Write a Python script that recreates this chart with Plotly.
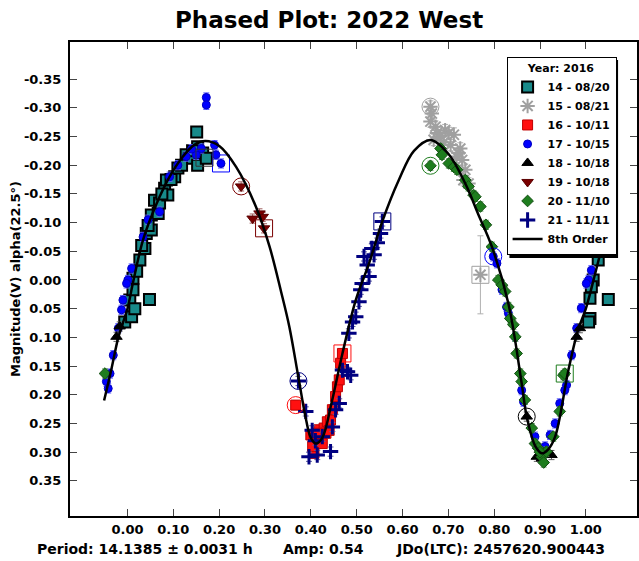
import plotly.graph_objects as go

# ---------------- data ----------------
ph14 = [-0.006, 0.005, 0.009, 0.012, 0.012, 0.016, 0.027, 0.038, 0.041, 0.052, 0.052, 0.059, 0.067, 0.070,
        0.081, 0.085, 0.088, 0.103, 0.110, 0.128, 0.135, 0.151, 0.153, 0.153, 0.164, 0.172, 0.048, 0.020,
        0.031, 0.045, 0.075, 0.095, 0.118, 0.142,
        1.052, 1.041, 1.034, 1.041, 1.027, 1.016, 1.012, 1.009, 1.009, 1.006, 1.049]
mag14 = [0.073, 0.035, 0.064, -0.003, 0.017, 0.050, -0.035, -0.055, -0.081, -0.113, -0.087, -0.139, -0.116, -0.134,
         -0.160, -0.174, -0.148, -0.180, -0.195, -0.218, -0.212, -0.258, -0.232, -0.200, -0.221, -0.212, 0.034, -0.015,
         -0.060, -0.095, -0.150, -0.175, -0.200, -0.225,
         -0.093, -0.084, -0.067, -0.052, -0.035, 0.000, 0.012, 0.032, 0.067, 0.073, 0.034]

ph15 = [0.661, 0.664, 0.661, 0.672, 0.675, 0.693, 0.701, 0.712, 0.726, 0.722, 0.730, 0.737, 0.733, 0.744,
        0.683, 0.668, 0.770, 0.690, 0.705, 0.718]
mag15 = [-0.302, -0.290, -0.276, -0.267, -0.256, -0.261, -0.256, -0.253, -0.229, -0.221, -0.209, -0.192, -0.174, -0.168,
         -0.250, -0.244, -0.009, -0.240, -0.235, -0.215]
err15 = [0.010, 0.010, 0.010, 0.010, 0.010, 0.010, 0.010, 0.012, 0.010, 0.010, 0.010, 0.010, 0.010, 0.010,
         0.010, 0.010, 0.068, 0.010, 0.010, 0.010]

ph16 = [0.367, 0.400, 0.407, 0.411, 0.418, 0.422, 0.429, 0.433, 0.436, 0.443, 0.447, 0.454, 0.458, 0.462,
        0.465, 0.469, 0.407, 0.414, 0.404, 0.425, 0.440]
mag16 = [0.218, 0.270, 0.276, 0.285, 0.261, 0.276, 0.258, 0.267, 0.247, 0.244, 0.226, 0.203, 0.186, 0.174,
         0.145, 0.128, 0.302, 0.267, 0.290, 0.285, 0.262]

ph17 = [0.172, 0.172, 0.190, 0.193, 0.204, 0.150, 0.161, 0.128, 0.092, 0.045, 0.034, 0.009, 0.001, -0.002,
        -0.013, -0.020, 0.070, -0.010, -0.031, -0.038, -0.046, -0.042, 0.110, 0.140,
        1.041, 1.034, 1.012, 1.006, 1.001, 0.990, 0.980, 0.969, 0.958, 0.954, 0.943,
        0.798, 0.806, 0.817, 0.827, 0.831, 0.846, 0.860, 0.864, 0.889, 0.922, 0.933, 0.911]
mag17 = [-0.318, -0.305, -0.235, -0.218, -0.203, -0.218, -0.229, -0.215, -0.180, -0.105, -0.075, -0.020, 0.000, 0.006,
         0.052, 0.084, -0.119, 0.035, 0.131, 0.163, 0.177, 0.189, -0.200, -0.228,
         -0.102, -0.073, -0.017, 0.000, 0.006, 0.049, 0.084, 0.131, 0.183, 0.192, 0.215,
         -0.041, -0.029, 0.017, 0.047, 0.058, 0.099, 0.192, 0.212, 0.273, 0.270, 0.250, 0.290]

ph18 = [0.871, 0.893, 0.904, 0.925, 0.980, 0.987, -0.024, -0.017]
mag18 = [0.238, 0.308, 0.311, 0.305, 0.099, 0.084, 0.099, 0.081]

ph19 = [0.248, 0.273, 0.288, 0.295, 0.298]
mag19 = [-0.163, -0.107, -0.116, -0.110, -0.090]

ph20 = [0.661, 0.683, 0.686, 0.701, 0.712, 0.719, 0.737, 0.744, 0.755, 0.759, 0.770, 0.782, 0.795, 0.809,
        0.817, 0.824, 0.831, 0.835, 0.842, 0.846, 0.849, 0.857, 0.860, 0.867, 0.882, 0.889, 0.896, 0.904,
        0.914, 0.929, 0.943, 0.951, 0.954, -0.049, 0.908, 0.900]
mag20 = [-0.199, -0.229, -0.218, -0.203, -0.197, -0.192, -0.174, -0.163, -0.148, -0.145, -0.128, -0.096, -0.058, 0.000,
         0.009, 0.020, 0.047, 0.067, 0.078, 0.099, 0.128, 0.163, 0.177, 0.209, 0.258, 0.285, 0.293, 0.308,
         0.299, 0.273, 0.229, 0.166, 0.163, 0.163, 0.318, 0.300]

ph21 = [0.373, 0.389, 0.396, 0.414, 0.443, 0.425, 0.447, 0.454, 0.462, 0.469, 0.480, 0.487, 0.483, 0.491,
        0.498, 0.505, 0.509, 0.512, 0.527, 0.523, 0.516, 0.538, 0.552, 0.556, 0.533, 0.545, 0.403, 0.410]
mag21 = [0.176, 0.229, 0.308, 0.305, 0.299, 0.273, 0.256, 0.226, 0.215, 0.157, 0.160, 0.166, 0.093, 0.073,
         0.064, 0.038, 0.017, 0.006, -0.006, -0.026, -0.041, -0.044, -0.081, -0.102, -0.055, -0.065, 0.262, 0.280]

# 8th order fit curve
fit_ph = [-0.051, -0.035, -0.020, -0.010, 0.000, 0.012, 0.034, 0.063, 0.092, 0.121, 0.145, 0.170, 0.201,
          0.237, 0.280, 0.310, 0.335, 0.353, 0.373, 0.390, 0.400, 0.411, 0.425, 0.445, 0.469, 0.498, 0.527,
          0.556, 0.592, 0.625, 0.661, 0.700, 0.737, 0.765, 0.795, 0.831, 0.860, 0.871, 0.890, 0.904, 0.918,
          0.933, 0.962, 0.983, 1.000, 1.020, 1.050]
fit_mag = [0.210, 0.155, 0.100, 0.075, 0.050, 0.005, -0.070, -0.132, -0.180, -0.215, -0.235, -0.242, -0.233,
           -0.197, -0.128, -0.058, 0.020, 0.081, 0.170, 0.245, 0.275, 0.285, 0.275, 0.215, 0.128, 0.035, -0.029,
           -0.102, -0.174, -0.225, -0.244, -0.220, -0.168, -0.115, -0.058, 0.041, 0.180, 0.238, 0.290, 0.302, 0.295,
           0.273, 0.157, 0.087, 0.050, -0.010, -0.105]

# first-observation markers (rings)
ring_c_ph = [0.248, 0.373, 0.367, 0.798, 0.661, 0.661, 0.871]
ring_c_mag = [-0.163, 0.176, 0.218, -0.041, -0.199, -0.302, 0.238]
ring_s_ph = [0.298, 0.556, 0.469, 0.204, 0.954, 0.770, 0.168]
ring_s_mag = [-0.090, -0.102, 0.128, -0.203, 0.163, -0.009, -0.213]

x_ticks = [0.0, 0.1, 0.2, 0.3, 0.4, 0.5, 0.6, 0.7, 0.8, 0.9, 1.0]
x_labels = ["0.00", "0.10", "0.20", "0.30", "0.40", "0.50", "0.60", "0.70", "0.80", "0.90", "1.00"]
y_ticks = [-0.35, -0.30, -0.25, -0.20, -0.15, -0.10, -0.05, 0.0, 0.05, 0.10, 0.15, 0.20, 0.25, 0.30, 0.35]
y_labels = ["-0.35", "-0.30", "-0.25", "-0.20", "-0.15", "-0.10", "-0.05", "0.00", "0.05", "0.10",
            "0.15", "0.20", "0.25", "0.30", "0.35"]

series_names = ["14 - 08/20", "15 - 08/21", "16 - 10/11", "17 - 10/15",
                "18 - 10/18", "19 - 10/18", "20 - 11/10", "21 - 11/11"]

# ---------------- figure ----------------
FONT = "DejaVu Sans, Arial, sans-serif"
fig = go.Figure()


def add_series(x, y, name, symbol, size, fill, line_color, line_width, err_color, err=None):
    ey = dict(type="data", array=err, visible=True, color=err_color, thickness=1, width=3) if err is not None \
        else dict(type="constant", value=0.008, visible=True, color=err_color, thickness=1, width=3)
    fig.add_trace(go.Scatter(
        x=x, y=y, mode="markers", name=name,
        marker=dict(symbol=symbol, size=size, color=fill, line=dict(color=line_color, width=line_width)),
        error_y=ey,
    ))


add_series(ph14, mag14, series_names[0], "square", 11, "#188a8a", "#000000", 2, "#2aa0a0")
add_series(ph15, mag15, series_names[1], "asterisk-open", 12, "#a0a0a0", "#a0a0a0", 2, "#b0b0b0", err15)
add_series(ph16, mag16, series_names[2], "square", 10, "#ff1010", "#c00000", 1, "#ff6060")
add_series(ph17, mag17, series_names[3], "circle", 8, "#0000ff", "#0000c0", 1, "#6060ff")
add_series(ph18, mag18, series_names[4], "triangle-up", 10, "#000000", "#000000", 1, "#606060")
add_series(ph19, mag19, series_names[5], "triangle-down", 10, "#7a0000", "#5a0000", 1, "#a06060")
add_series(ph20, mag20, series_names[6], "diamond", 9, "#1e7d1e", "#145014", 1, "#60a060")
add_series(ph21, mag21, series_names[7], "cross-thin-open", 11, "#000080", "#000080", 3, "#6060a0")

ring_colors = ["#7a0000", "#000080", "#ff1010", "#0000ff", "#1e7d1e", "#a0a0a0", "#000000"]
ring_s_colors = ["#7a0000", "#000080", "#ff1010", "#0000ff", "#1e7d1e", "#a0a0a0", "#333333"]
fig.add_trace(go.Scatter(x=ring_c_ph, y=ring_c_mag, mode="markers", showlegend=False, hoverinfo="skip",
                         marker=dict(symbol="circle-open", size=17, color=ring_colors,
                                     line=dict(color=ring_colors, width=1))))
fig.add_trace(go.Scatter(x=ring_s_ph, y=ring_s_mag, mode="markers", showlegend=False, hoverinfo="skip",
                         marker=dict(symbol="square-open", size=17, color=ring_s_colors,
                                     line=dict(color=ring_s_colors, width=1))))

fig.add_trace(go.Scatter(x=fit_ph, y=fit_mag, mode="lines", name="8th Order",
                         line=dict(color="#000000", width=2.5, shape="spline", smoothing=1.0)))

# legend drop shadow (paper coordinates of the plot area)
fig.add_shape(type="rect", xref="paper", yref="paper", x0=0.7750, x1=0.9666, y0=0.5443, y1=0.962,
              fillcolor="#000000", line=dict(width=0), layer="above")

fig.update_layout(
    width=639, height=561,
    margin=dict(l=70, r=0, t=42, b=45),
    paper_bgcolor="white", plot_bgcolor="white",
    font=dict(family=FONT, size=13, color="#000000"),
    title=dict(text="<b>Phased Plot: 2022 West</b>", x=0.515, xanchor="center", y=0.964, yanchor="middle",
               font=dict(family=FONT, size=23, color="#000000")),
    showlegend=True,
    legend=dict(x=0.770, y=0.968, xanchor="left", yanchor="top",
                bgcolor="white", bordercolor="#000000", borderwidth=1,
                font=dict(family=FONT, size=11, color="#000000", weight="bold"),
                title=dict(text="<b>Year: 2016</b>", side="top center",
                           font=dict(family=FONT, size=11, color="#000000")),
                itemwidth=30, tracegroupgap=0),
    xaxis=dict(range=[-0.1254, 1.1116], tickmode="array", tickvals=x_ticks, ticktext=x_labels,
               ticks="inside", ticklen=7, tickcolor="#444444", tickwidth=1,
               showline=True, linecolor="#000000", linewidth=2, mirror="allticks",
               showgrid=False, zeroline=False,
               tickfont=dict(family=FONT, size=13, color="#000000", weight="bold")),
    yaxis=dict(range=[0.4112, -0.4146], tickmode="array", tickvals=y_ticks, ticktext=y_labels,
               ticks="inside", ticklen=7, tickcolor="#444444", tickwidth=1,
               showline=True, linecolor="#000000", linewidth=2, mirror="ticks",
               showgrid=False, zeroline=False, ticklabelstandoff=4,
               tickfont=dict(family=FONT, size=13, color="#000000", weight="bold"),
               title=dict(text="<b>Magnitude(V) alpha(22.5°)</b>", standoff=0,
                          font=dict(family=FONT, size=13, color="#000000"))),
)

footer = [("<b>Period: 14.1385 ± 0.0031 h</b>", 0.1327),
          ("<b>Amp: 0.54</b>", 0.447),
          ("<b>JDo(LTC): 2457620.900443</b>", 0.759)]
for txt, xp in footer:
    fig.add_annotation(text=txt, x=xp, y=-0.0696, xref="paper", yref="paper", xanchor="center", yanchor="middle",
                       showarrow=False, font=dict(family=FONT, size=14, color="#000000"))

fig.write_html("out.html", config={"displayModeBar": False},
               post_script="document.body.style.margin='0px';document.body.style.padding='0px';")
